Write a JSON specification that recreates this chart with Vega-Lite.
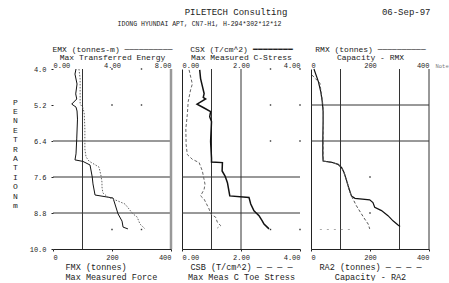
{
  "$schema": "https://vega.github.io/schema/vega-lite/v6.json",
  "background": "white",
  "padding": {"left": 12, "top": 7, "right": 0, "bottom": 0},
  "spacing": 11,
  "bounds": "flush",
  "datasets": {
    "emx": [
      {"depth": 4.0, "v": 1.56}, {"depth": 4.17, "v": 1.49}, {"depth": 4.5, "v": 1.63}, {"depth": 4.83, "v": 1.54},
      {"depth": 5.0, "v": 1.61}, {"depth": 5.17, "v": 1.27}, {"depth": 5.27, "v": 1.56}, {"depth": 5.4, "v": 1.63},
      {"depth": 5.67, "v": 1.66}, {"depth": 6.33, "v": 1.61}, {"depth": 6.83, "v": 1.56}, {"depth": 7.03, "v": 1.49},
      {"depth": 7.08, "v": 2.03}, {"depth": 7.2, "v": 2.51}, {"depth": 7.6, "v": 2.66}, {"depth": 7.83, "v": 2.71},
      {"depth": 8.2, "v": 2.85}, {"depth": 8.3, "v": 4.07}, {"depth": 8.5, "v": 4.2}, {"depth": 8.83, "v": 4.41},
      {"depth": 9.07, "v": 4.68}, {"depth": 9.27, "v": 4.75}, {"depth": 9.33, "v": 5.08}
    ],
    "fmx": [
      {"depth": 4.0, "v": 88}, {"depth": 4.33, "v": 92}, {"depth": 4.83, "v": 92}, {"depth": 5.17, "v": 92},
      {"depth": 5.3, "v": 102}, {"depth": 5.5, "v": 106}, {"depth": 6.0, "v": 108}, {"depth": 6.67, "v": 108},
      {"depth": 6.93, "v": 112}, {"depth": 7.07, "v": 122}, {"depth": 7.13, "v": 132}, {"depth": 7.27, "v": 156},
      {"depth": 7.57, "v": 163}, {"depth": 7.77, "v": 166}, {"depth": 7.93, "v": 166}, {"depth": 8.13, "v": 169},
      {"depth": 8.27, "v": 186}, {"depth": 8.4, "v": 220}, {"depth": 8.5, "v": 244}, {"depth": 8.83, "v": 271},
      {"depth": 8.93, "v": 285}, {"depth": 9.17, "v": 295}, {"depth": 9.33, "v": 312}
    ],
    "csx": [
      {"depth": 4.03, "v": 0.6}, {"depth": 4.32, "v": 0.63}, {"depth": 4.53, "v": 0.68}, {"depth": 4.82, "v": 0.75},
      {"depth": 4.95, "v": 0.72}, {"depth": 5.0, "v": 0.8}, {"depth": 5.17, "v": 0.51}, {"depth": 5.3, "v": 0.75},
      {"depth": 5.42, "v": 0.97}, {"depth": 5.59, "v": 0.94}, {"depth": 5.75, "v": 1.0}, {"depth": 6.42, "v": 0.97},
      {"depth": 6.97, "v": 1.0}, {"depth": 7.1, "v": 1.0}, {"depth": 7.12, "v": 1.37}, {"depth": 7.4, "v": 1.36},
      {"depth": 7.57, "v": 1.46}, {"depth": 7.79, "v": 1.54}, {"depth": 8.06, "v": 1.59}, {"depth": 8.23, "v": 1.62},
      {"depth": 8.28, "v": 2.27}, {"depth": 8.5, "v": 2.33}, {"depth": 8.73, "v": 2.44}, {"depth": 8.89, "v": 2.61},
      {"depth": 9.06, "v": 2.72}, {"depth": 9.17, "v": 2.78}, {"depth": 9.33, "v": 2.95}
    ],
    "csb": [
      {"depth": 4.03, "v": 0.24}, {"depth": 4.5, "v": 0.35}, {"depth": 4.7, "v": 0.29}, {"depth": 5.09, "v": 0.21},
      {"depth": 5.52, "v": 0.18}, {"depth": 5.99, "v": 0.13}, {"depth": 6.52, "v": 0.14}, {"depth": 6.85, "v": 0.18},
      {"depth": 7.01, "v": 0.35}, {"depth": 7.12, "v": 0.58}, {"depth": 7.4, "v": 0.69}, {"depth": 7.84, "v": 0.78},
      {"depth": 8.01, "v": 0.75}, {"depth": 8.23, "v": 0.63}, {"depth": 8.34, "v": 0.75}, {"depth": 8.67, "v": 0.92},
      {"depth": 8.83, "v": 0.97}, {"depth": 8.94, "v": 1.14}, {"depth": 9.11, "v": 1.2}, {"depth": 9.22, "v": 1.31},
      {"depth": 9.3, "v": 1.2}
    ],
    "rmx": [
      {"depth": 4.0, "v": 10}, {"depth": 4.42, "v": 25}, {"depth": 4.75, "v": 33}, {"depth": 5.08, "v": 38},
      {"depth": 5.41, "v": 41}, {"depth": 5.75, "v": 41}, {"depth": 6.41, "v": 40}, {"depth": 6.85, "v": 40},
      {"depth": 7.07, "v": 41}, {"depth": 7.11, "v": 70}, {"depth": 7.18, "v": 92}, {"depth": 7.29, "v": 104},
      {"depth": 7.45, "v": 112}, {"depth": 7.73, "v": 121}, {"depth": 7.9, "v": 126}, {"depth": 8.23, "v": 137},
      {"depth": 8.31, "v": 149}, {"depth": 8.36, "v": 199}, {"depth": 8.45, "v": 210}, {"depth": 8.61, "v": 216},
      {"depth": 8.72, "v": 239}, {"depth": 8.89, "v": 261}, {"depth": 9.06, "v": 278}, {"depth": 9.2, "v": 295},
      {"depth": 9.25, "v": 302}
    ],
    "ra2": [
      {"depth": 4.2, "v": 3}, {"depth": 4.47, "v": 30}, {"depth": 4.75, "v": 34}, {"depth": 5.08, "v": 39},
      {"depth": 5.41, "v": 42}, {"depth": 5.75, "v": 42}, {"depth": 6.41, "v": 41}, {"depth": 6.85, "v": 41},
      {"depth": 7.07, "v": 42}, {"depth": 7.11, "v": 70}, {"depth": 7.18, "v": 92}, {"depth": 7.29, "v": 104},
      {"depth": 7.45, "v": 112}, {"depth": 7.73, "v": 121}, {"depth": 7.9, "v": 126}, {"depth": 8.0, "v": 128},
      {"depth": 8.23, "v": 137}, {"depth": 8.56, "v": 154}, {"depth": 8.83, "v": 171}, {"depth": 9.0, "v": 182},
      {"depth": 9.17, "v": 194}, {"depth": 9.33, "v": 199}
    ]
  },
  "hconcat": [
    {
      "width": 118,
      "height": 180,
      "resolve": {"scale": {"x": "independent"}, "axis": {"x": "independent"}},
      "layer": [
        {
          "data": {"values": [{"depth": 7.6}, {"depth": 8.8}]},
          "mark": {"type": "rule", "color": "#333", "strokeWidth": 1},
          "encoding": {
            "y": {"field": "depth", "type": "quantitative", "scale": {"domain": [4, 10], "reverse": true, "nice": false, "zero": false},
              "axis": {"values": [4, 5.2, 6.4, 7.6, 8.8, 10], "format": ".1f", "domain": false, "ticks": true, "tickSize": 2, "labelPadding": 5, "labelFontSize": 7,
                "title": ["P", "E", "N", "E", "T", "R", "A", "T", "I", "O", "N", " ", "m"], "titleAngle": 0, "titleX": -38, "titleY": 29, "titleAlign": "center", "titleBaseline": "top", "titleFontSize": 8, "titleLineHeight": 9.4}}
          }
        },
        {
          "data": {"values": [{"depth": 6.4}]},
          "mark": {"type": "rule", "color": "#999", "strokeWidth": 2},
          "encoding": {
            "y": {"field": "depth", "type": "quantitative", "scale": {"domain": [4, 10], "reverse": true, "nice": false, "zero": false},
              "axis": {"values": [4, 5.2, 6.4, 7.6, 8.8, 10], "format": ".1f", "domain": false, "ticks": true, "tickSize": 2, "labelPadding": 5, "labelFontSize": 7,
                "title": ["P", "E", "N", "E", "T", "R", "A", "T", "I", "O", "N", " ", "m"], "titleAngle": 0, "titleX": -38, "titleY": 29, "titleAlign": "center", "titleBaseline": "top", "titleFontSize": 8, "titleLineHeight": 9.4}}
          }
        },
        {
          "data": {"values": [{"fmx": 100}]},
          "mark": {"type": "rule", "color": "#333", "strokeWidth": 1},
          "encoding": {"x": {"field": "fmx", "type": "quantitative", "scale": {"domain": [0, 400], "nice": false, "zero": false},
            "axis": {"orient": "top", "labels": false, "ticks": false, "domain": false, "grid": false,
              "title": "PILETECH Consulting", "titleX": 182.5, "titleY": -58, "titleAlign": "center", "titleBaseline": "middle", "titleFontSize": 9}}}
        },
        {
          "data": {"values": [{"fmx": 400}]},
          "mark": {"type": "rule", "color": "#999", "strokeWidth": 2.5},
          "encoding": {"x": {"field": "fmx", "type": "quantitative", "scale": {"domain": [0, 400], "nice": false, "zero": false},
            "axis": {"orient": "top", "labels": false, "ticks": false, "domain": false, "grid": false,
              "title": "06-Sep-97", "titleX": 377, "titleY": -58, "titleAlign": "right", "titleBaseline": "middle", "titleFontSize": 9}}}
        },
        {
          "data": {"values": [{"fmx": 200, "depth": 4.0}, {"fmx": 300, "depth": 4.0}, {"fmx": 200, "depth": 5.2}, {"fmx": 300, "depth": 5.2}, {"fmx": 200, "depth": 9.35}, {"fmx": 300, "depth": 9.35}]},
          "mark": {"type": "square", "size": 2, "color": "#333", "opacity": 1},
          "encoding": {
            "x": {"field": "fmx", "type": "quantitative", "scale": {"domain": [0, 400], "nice": false, "zero": false},
              "axis": {"orient": "top", "labels": false, "ticks": false, "domain": false, "grid": false,
                "title": "IDONG HYUNDAI APT, CN7-H1, H-294*302*12*12", "titleX": 146, "titleY": -46, "titleAlign": "center", "titleBaseline": "middle", "titleFontSize": 6.5}},
            "y": {"field": "depth", "type": "quantitative", "scale": {"domain": [4, 10], "reverse": true, "nice": false, "zero": false},
              "axis": {"values": [4, 5.2, 6.4, 7.6, 8.8, 10], "format": ".1f", "domain": false, "ticks": true, "tickSize": 2, "labelPadding": 5, "labelFontSize": 7,
                "title": ["P", "E", "N", "E", "T", "R", "A", "T", "I", "O", "N", " ", "m"], "titleAngle": 0, "titleX": -38, "titleY": 29, "titleAlign": "center", "titleBaseline": "top", "titleFontSize": 8, "titleLineHeight": 9.4}}
          }
        },
        {
          "data": {"name": "emx"},
          "mark": {"type": "line", "color": "#111", "strokeWidth": 1},
          "encoding": {
            "x": {"field": "v", "type": "quantitative", "scale": {"domain": [0, 8], "nice": false, "zero": false},
              "axis": {"orient": "top", "values": [0, 4, 8], "format": ".2f", "domain": false, "ticks": false, "labelPadding": 1,
                "title": ["EMX (tonnes-m) ──────────", "Max Transferred Energy"], "titleFontSize": 8, "titleLineHeight": 8, "titleX": 59, "titleY": -19.5, "titleAlign": "center", "titleBaseline": "middle"}},
            "y": {"field": "depth", "type": "quantitative", "scale": {"domain": [4, 10], "reverse": true, "nice": false, "zero": false},
              "axis": {"values": [4, 5.2, 6.4, 7.6, 8.8, 10], "format": ".1f", "domain": false, "ticks": true, "tickSize": 2, "labelPadding": 5, "labelFontSize": 7,
                "title": ["P", "E", "N", "E", "T", "R", "A", "T", "I", "O", "N", " ", "m"], "titleAngle": 0, "titleX": -38, "titleY": 29, "titleAlign": "center", "titleBaseline": "top", "titleFontSize": 8, "titleLineHeight": 9.4}},
            "order": {"field": "depth", "type": "quantitative"}
          }
        },
        {
          "data": {"name": "fmx"},
          "mark": {"type": "line", "color": "#666", "strokeWidth": 1, "strokeDash": [1.5, 1.5]},
          "encoding": {
            "x": {"field": "v", "type": "quantitative", "scale": {"domain": [0, 400], "nice": false, "zero": false},
              "axis": {"orient": "bottom", "values": [0, 200, 400], "format": "d", "domain": true, "ticks": true, "tickSize": 2, "labelPadding": 2,
                "title": ["FMX (tonnes)", "Max Measured Force"], "titleFontSize": 8.5, "titleLineHeight": 10, "titleX": 12, "titleY": 17, "titleAlign": "left", "titleBaseline": "middle"}},
            "y": {"field": "depth", "type": "quantitative", "scale": {"domain": [4, 10], "reverse": true, "nice": false, "zero": false},
              "axis": {"values": [4, 5.2, 6.4, 7.6, 8.8, 10], "format": ".1f", "domain": false, "ticks": true, "tickSize": 2, "labelPadding": 5, "labelFontSize": 7,
                "title": ["P", "E", "N", "E", "T", "R", "A", "T", "I", "O", "N", " ", "m"], "titleAngle": 0, "titleX": -38, "titleY": 29, "titleAlign": "center", "titleBaseline": "top", "titleFontSize": 8, "titleLineHeight": 9.4}},
            "order": {"field": "depth", "type": "quantitative"}
          }
        }
      ]
    },
    {
      "width": 118,
      "height": 180,
      "resolve": {"scale": {"x": "independent"}, "axis": {"x": "independent"}},
      "layer": [
        {
          "data": {"values": [{"depth": 7.6}, {"depth": 8.8}]},
          "mark": {"type": "rule", "color": "#333", "strokeWidth": 1},
          "encoding": {
            "y": {"field": "depth", "type": "quantitative", "scale": {"domain": [4, 10], "reverse": true, "nice": false, "zero": false},
              "axis": {"labels": false, "ticks": false, "domain": true, "title": null}}
          }
        },
        {
          "data": {"values": [{"c": 1}, {"c": 2}]},
          "mark": {"type": "rule", "color": "#333", "strokeWidth": 1},
          "encoding": {"x": {"field": "c", "type": "quantitative", "scale": {"domain": [0, 4], "nice": false, "zero": false}, "axis": null}}
        },
        {
          "data": {"values": [{"c": 3, "depth": 4.0}, {"c": 4, "depth": 4.0}, {"c": 3, "depth": 5.2}, {"c": 4, "depth": 5.2}, {"c": 3, "depth": 6.4}, {"c": 4, "depth": 6.4}, {"c": 3, "depth": 9.35}, {"c": 4, "depth": 9.35}]},
          "mark": {"type": "square", "size": 2, "color": "#333", "opacity": 1},
          "encoding": {
            "x": {"field": "c", "type": "quantitative", "scale": {"domain": [0, 4], "nice": false, "zero": false}, "axis": null},
            "y": {"field": "depth", "type": "quantitative", "scale": {"domain": [4, 10], "reverse": true, "nice": false, "zero": false},
              "axis": {"labels": false, "ticks": false, "domain": true, "title": null}}
          }
        },
        {
          "data": {"name": "csx"},
          "mark": {"type": "line", "color": "#111", "strokeWidth": 1.5},
          "encoding": {
            "x": {"field": "v", "type": "quantitative", "scale": {"domain": [0, 4], "nice": false, "zero": false},
              "axis": {"orient": "top", "values": [0, 2, 4], "format": ".2f", "domain": false, "ticks": false, "labelPadding": 1,
                "title": ["CSX (T/cm^2) ━━━━━━━━", "Max Measured C-Stress"], "titleFontSize": 8, "titleLineHeight": 8, "titleX": 59, "titleY": -19.5, "titleAlign": "center", "titleBaseline": "middle"}},
            "y": {"field": "depth", "type": "quantitative", "scale": {"domain": [4, 10], "reverse": true, "nice": false, "zero": false},
              "axis": {"labels": false, "ticks": false, "domain": true, "title": null}},
            "order": {"field": "depth", "type": "quantitative"}
          }
        },
        {
          "data": {"name": "csb"},
          "mark": {"type": "line", "color": "#666", "strokeWidth": 1, "strokeDash": [3, 2]},
          "encoding": {
            "x": {"field": "v", "type": "quantitative", "scale": {"domain": [0, 4], "nice": false, "zero": false},
              "axis": {"orient": "bottom", "values": [0, 2, 4], "format": ".2f", "domain": true, "ticks": true, "tickSize": 2, "labelPadding": 2,
                "title": ["CSB (T/cm^2) — — — —", "Max Meas C Toe Stress"], "titleFontSize": 8.5, "titleLineHeight": 10, "titleX": 59, "titleY": 17, "titleAlign": "center", "titleBaseline": "middle"}},
            "y": {"field": "depth", "type": "quantitative", "scale": {"domain": [4, 10], "reverse": true, "nice": false, "zero": false},
              "axis": {"labels": false, "ticks": false, "domain": true, "title": null}},
            "order": {"field": "depth", "type": "quantitative"}
          }
        }
      ]
    },
    {
      "width": 118,
      "height": 180,
      "resolve": {"scale": {"x": "independent"}, "axis": {"x": "independent"}},
      "layer": [
        {
          "data": {"values": [{"depth": 5.2}, {"depth": 6.4}]},
          "mark": {"type": "rule", "color": "#333", "strokeWidth": 1},
          "encoding": {
            "y": {"field": "depth", "type": "quantitative", "scale": {"domain": [4, 10], "reverse": true, "nice": false, "zero": false},
              "axis": {"labels": false, "ticks": false, "domain": true, "title": null}}
          }
        },
        {
          "data": {"values": [{"r": 100}, {"r": 300}, {"r": 400}]},
          "mark": {"type": "rule", "color": "#333", "strokeWidth": 1},
          "encoding": {"x": {"field": "r", "type": "quantitative", "scale": {"domain": [0, 400], "nice": false, "zero": false},
            "axis": {"orient": "top", "labels": false, "ticks": false, "domain": false, "grid": false, "title": "Note", "titleX": 124, "titleY": -1, "titleAlign": "left", "titleBaseline": "bottom", "titleFontSize": 5.5, "titleColor": "#777"}}}
        },
        {
          "data": {"values": [{"r": 30, "r2": 135, "depth": 9.35}]},
          "mark": {"type": "rule", "color": "#aaa", "strokeWidth": 1, "strokeDash": [2, 5]},
          "encoding": {
            "x": {"field": "r", "type": "quantitative", "scale": {"domain": [0, 400], "nice": false, "zero": false}, "axis": null},
            "x2": {"field": "r2"},
            "y": {"field": "depth", "type": "quantitative", "scale": {"domain": [4, 10], "reverse": true, "nice": false, "zero": false},
              "axis": {"labels": false, "ticks": false, "domain": true, "title": null}}
          }
        },
        {
          "data": {"values": [{"r": 200, "depth": 7.6}, {"r": 200, "depth": 8.8}]},
          "mark": {"type": "square", "size": 2, "color": "#333", "opacity": 1},
          "encoding": {
            "x": {"field": "r", "type": "quantitative", "scale": {"domain": [0, 400], "nice": false, "zero": false}, "axis": null},
            "y": {"field": "depth", "type": "quantitative", "scale": {"domain": [4, 10], "reverse": true, "nice": false, "zero": false},
              "axis": {"labels": false, "ticks": false, "domain": true, "title": null}}
          }
        },
        {
          "data": {"name": "rmx"},
          "mark": {"type": "line", "color": "#111", "strokeWidth": 1.2},
          "encoding": {
            "x": {"field": "v", "type": "quantitative", "scale": {"domain": [0, 400], "nice": false, "zero": false},
              "axis": {"orient": "top", "values": [0, 200, 400], "format": "d", "domain": false, "ticks": false, "labelPadding": 1,
                "title": ["RMX (tonnes) ──────────", "Capacity - RMX"], "titleFontSize": 8, "titleLineHeight": 8, "titleX": 59, "titleY": -19.5, "titleAlign": "center", "titleBaseline": "middle"}},
            "y": {"field": "depth", "type": "quantitative", "scale": {"domain": [4, 10], "reverse": true, "nice": false, "zero": false},
              "axis": {"labels": false, "ticks": false, "domain": true, "title": null}},
            "order": {"field": "depth", "type": "quantitative"}
          }
        },
        {
          "data": {"name": "ra2"},
          "mark": {"type": "line", "color": "#555", "strokeWidth": 1, "strokeDash": [3, 2]},
          "encoding": {
            "x": {"field": "v", "type": "quantitative", "scale": {"domain": [0, 400], "nice": false, "zero": false},
              "axis": {"orient": "bottom", "values": [0, 200, 400], "format": "d", "domain": true, "ticks": true, "tickSize": 2, "labelPadding": 2,
                "title": ["RA2 (tonnes) — — — —", "Capacity - RA2"], "titleFontSize": 8.5, "titleLineHeight": 10, "titleX": 59, "titleY": 17, "titleAlign": "center", "titleBaseline": "middle"}},
            "y": {"field": "depth", "type": "quantitative", "scale": {"domain": [4, 10], "reverse": true, "nice": false, "zero": false},
              "axis": {"labels": false, "ticks": false, "domain": true, "title": null}},
            "order": {"field": "depth", "type": "quantitative"}
          }
        }
      ]
    }
  ],
  "config": {
    "font": "Liberation Mono",
    "view": {"stroke": null},
    "axis": {
      "labelFont": "Liberation Mono",
      "titleFont": "Liberation Mono",
      "labelFontSize": 7,
      "labelColor": "#222",
      "titleColor": "#222",
      "titleFontWeight": "normal",
      "domainColor": "#222",
      "tickColor": "#222",
      "grid": false,
      "labelOverlap": false
    }
  }
}
